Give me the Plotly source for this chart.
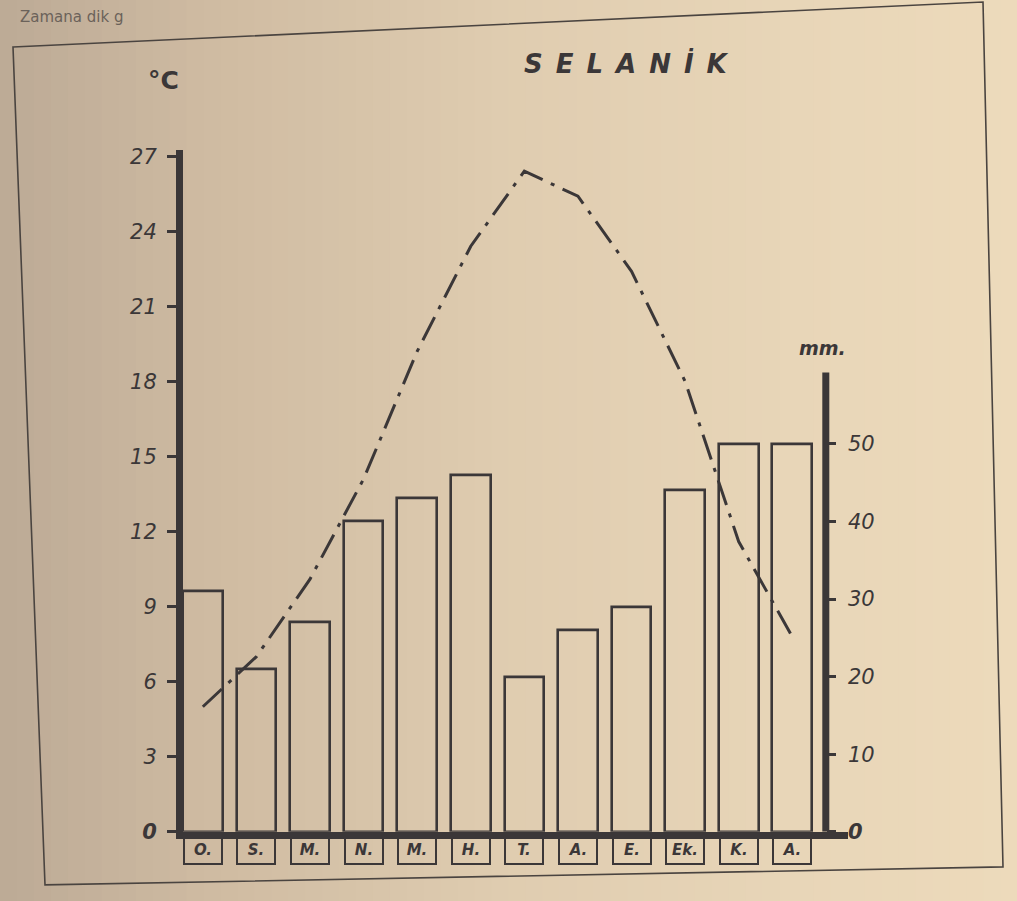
import plotly.graph_objects as go

# ---- data ----
months = ["O.", "S.", "M.", "N.", "M.", "H.", "T.", "A.", "E.", "Ek.", "K.", "A."]
precip_mm = [31, 21, 27, 40, 43, 46, 20, 26, 29, 44, 50, 50]
temp_c = [5.0, 7.0, 10.1, 14.1, 19.2, 23.4, 26.4, 25.4, 22.4, 18.0, 11.6, 7.8]
temp_ticks = [0, 3, 6, 9, 12, 15, 18, 21, 24, 27]
mm_ticks = [0, 10, 20, 30, 40, 50]
title_text = "\u2002".join("SELANİK")

W, H = 1017, 901
INK = "#3b3738"
FONT = "DejaVu Sans"
BG = "rgb(222,204,177)"

xs = list(range(len(months)))

# vertical compensation for how the page is photographed
V_OFF, V_SCALE = 6.0, 0.979

def px(x):
    return x / W

def py(y):
    return 1 - ((y - V_OFF) / V_SCALE) / H

Y_TOP = 27.24
MM_PER_C = 1 / 0.31

fig = go.Figure()

fig.add_trace(go.Scatter(
    x=xs, y=temp_c, mode="lines", yaxis="y",
    line=dict(color=INK, width=3, dash="26px,9px,4px,9px"),
    hoverinfo="skip", showlegend=False))

fig.add_trace(go.Bar(
    x=xs, y=precip_mm, yaxis="y2", width=0.74,
    marker=dict(color="rgba(0,0,0,0)", line=dict(color=INK, width=2.6)),
    showlegend=False))

# ---- background gradient strips ----
stops = [(0, (188, 170, 150)), (200, (206, 186, 161)), (500, (223, 204, 176)),
         (800, (232, 214, 184)), (1017, (237, 218, 187))]

def col_at(x):
    for (x0, c0), (x1, c1) in zip(stops[:-1], stops[1:]):
        if x0 <= x <= x1:
            t = (x - x0) / (x1 - x0)
            return tuple(int(round(a + (b - a) * t)) for a, b in zip(c0, c1))
    return stops[-1][1]

shapes = []
n = 60
for i in range(n):
    x0 = W * i / n
    x1 = W * (i + 1) / n
    c = col_at((x0 + x1) / 2)
    shapes.append(dict(type="rect", xref="paper", yref="paper",
                       x0=px(x0), x1=px(x1) + 0.001, y0=-0.05, y1=1.05,
                       fillcolor="rgb(%d,%d,%d)" % c, line=dict(width=0), layer="below"))

# frame
corners = [(13, 47), (983, 2), (1003, 866), (45, 884)]
path = "M " + " L ".join("%f,%f" % (px(a), py(b)) for a, b in corners) + " Z"
shapes.append(dict(type="path", xref="paper", yref="paper", path=path,
                   line=dict(color="#4a4440", width=1.6), layer="below"))

# right (mm) axis line
RIGHT_POS = 0.812
BASE_PX = 831
TOP_PX = BASE_PX - Y_TOP * 25.0
c_per_px = Y_TOP / (BASE_PX - TOP_PX)
shapes.append(dict(type="line", xref="paper", yref="y", x0=RIGHT_POS, x1=RIGHT_POS,
                   y0=0, y1=(BASE_PX - 372) * c_per_px, line=dict(color=INK, width=7)))

annotations = [
    dict(text="Zamana dik g", xref="paper", yref="paper", x=px(18), y=1.0,
         xanchor="left", yanchor="top", showarrow=False,
         font=dict(family=FONT, size=15, color="#6b625a")),
    dict(text=title_text, xref="paper", yref="paper", x=px(626), y=py(63),
         xanchor="center", yanchor="middle", showarrow=False,
         font=dict(family=FONT, size=26, color=INK, weight="bold", style="italic")),
    dict(text="°C", xref="paper", yref="paper", x=px(163), y=py(80),
         xanchor="center", yanchor="middle", showarrow=False,
         font=dict(family=FONT, size=25, color=INK, weight="bold")),
    dict(text="mm.", xref="paper", yref="paper", x=px(822), y=py(348),
         xanchor="center", yanchor="middle", showarrow=False,
         font=dict(family=FONT, size=19, color=INK, weight="bold", style="italic")),
]
for i, m in enumerate(months):
    annotations.append(dict(
        text=m, xref="x", yref="paper", x=i, y=py(849),
        xanchor="center", yanchor="middle", showarrow=False,
        width=32, height=22, borderpad=2, bordercolor=INK, borderwidth=2,
        font=dict(family=FONT, size=15, color=INK, weight="bold", style="italic")))

def lab(v):
    return "<b>%d</b>" % v if v == 0 else "%d" % v

fig.update_layout(
    width=W, height=H,
    margin=dict(l=0, r=0, t=0, b=0),
    paper_bgcolor=BG,
    plot_bgcolor="rgba(0,0,0,0)",
    showlegend=False,
    bargap=0,
    shapes=shapes,
    annotations=annotations,
    xaxis=dict(domain=[px(183), px(848)], range=[-0.37, 12.04],
               showline=True, linewidth=7, linecolor=INK,
               showticklabels=False, ticks="", showgrid=False, zeroline=False,
               fixedrange=True),
    yaxis=dict(domain=[py(BASE_PX), py(TOP_PX)], range=[0, Y_TOP],
               tickvals=temp_ticks, ticktext=[lab(v) for v in temp_ticks],
               showline=True, linewidth=7, linecolor=INK,
               ticks="outside", ticklen=9, tickwidth=2.5, tickcolor=INK,
               ticklabelstandoff=6,
               tickfont=dict(family=FONT, size=21, color=INK, style="italic"),
               showgrid=False, zeroline=False),
    yaxis2=dict(overlaying="y", anchor="free", position=RIGHT_POS, side="right",
                range=[0, Y_TOP * MM_PER_C],
                tickvals=mm_ticks, ticktext=[lab(v) for v in mm_ticks],
                ticks="outside", ticklen=9, tickwidth=2.5, tickcolor=INK,
                ticklabelstandoff=8,
                tickfont=dict(family=FONT, size=21, color=INK, style="italic"),
                showline=False, showgrid=False, zeroline=False),
)

fig.write_html(
    "out.html",
    config={"displayModeBar": False},
    post_script=("var d=document.getElementById('{plot_id}');"
                 "d.style.position='fixed';d.style.left='0px';d.style.top='0px';"
                 "document.body.style.margin='0';"
                 "document.body.style.overflow='hidden';"
                 "document.documentElement.style.overflow='hidden';"
                 "document.body.style.background='" + BG + "';"
                 "document.documentElement.style.background='" + BG + "';"),
)
